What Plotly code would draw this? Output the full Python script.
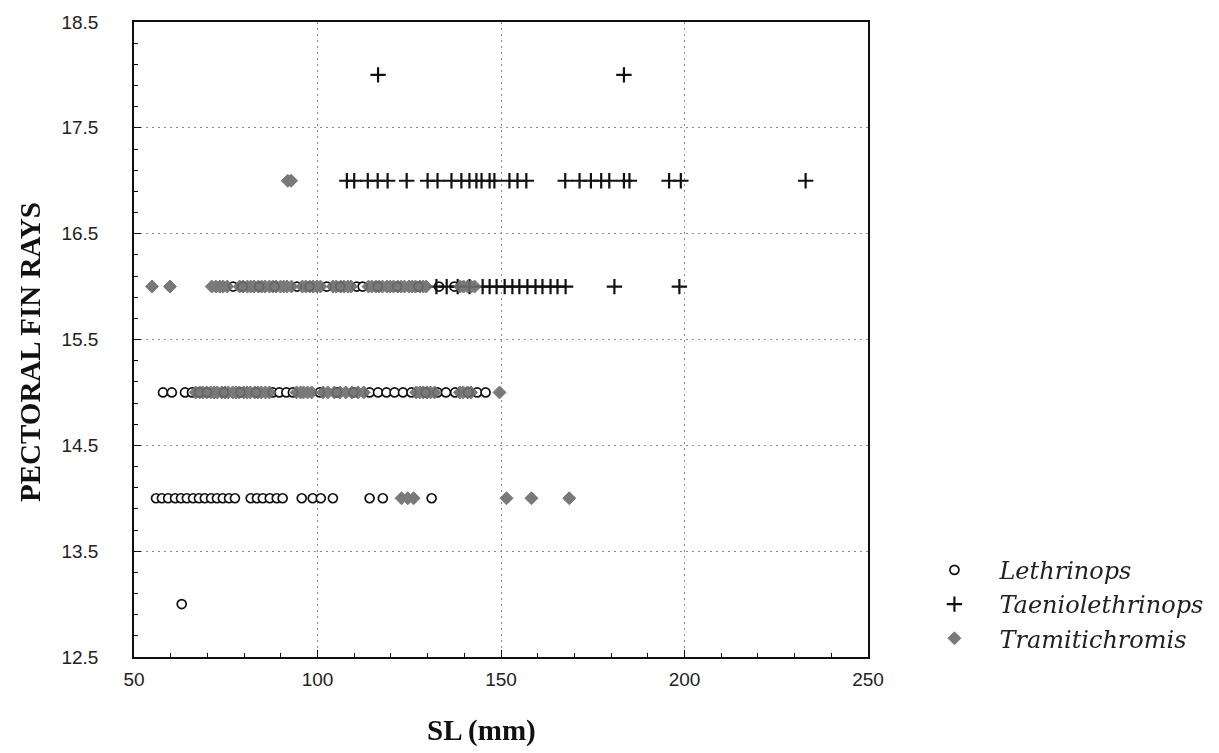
import plotly.graph_objects as go

# Standard length (mm) of each specimen, grouped by pectoral fin-ray count
leth_13 = [63.0]
leth_14 = [56.0, 57.6, 59.3, 61.2, 62.8, 64.4, 66.1, 67.7, 69.3, 71.0, 72.6, 74.2,
           75.9, 77.5, 81.8, 83.5, 85.1, 87.0, 88.9, 90.5, 95.7, 98.7, 100.9,
           104.2, 114.2, 117.8, 131.1]
leth_15 = [57.9, 60.3, 63.9, 65.8, 67.8, 69.9, 74.5, 79.0, 83.2, 87.8, 89.6, 91.5,
           93.3, 100.6, 105.3, 109.8, 114.2, 116.5, 118.8, 121.0, 123.3, 125.6,
           129.4, 132.7, 135.0, 137.5, 141.0, 143.5, 145.8]
leth_16 = [77.0, 79.6, 84.1, 88.3, 94.4, 97.8, 102.5, 106.2, 110.7, 112.3,
           116.4, 121.7, 127.5, 133.1, 137.3]

taen_16 = [132.4, 135.2, 138.2, 141.4, 145.0, 146.9, 148.8, 151.0, 153.1, 155.0,
           157.2, 159.4, 161.3, 163.5, 165.4, 167.6, 180.9, 198.6]
taen_17 = [108.0, 110.0, 113.7, 116.4, 119.1, 124.3, 130.0, 132.7, 136.5, 139.2,
           141.4, 143.3, 144.7, 146.9, 148.2, 152.3, 154.5, 156.9, 167.5, 171.4,
           174.5, 177.3, 179.5, 183.5, 185.0, 195.8, 199.0, 233.0]
taen_18 = [116.5, 183.5]

tram_14 = [122.9, 124.6, 126.2, 151.5, 158.3, 168.6]
tram_15 = [66.8, 67.9, 68.7, 69.8, 70.9, 71.8, 72.7, 73.9, 74.8, 75.7, 76.9, 77.8,
           78.7, 79.9, 80.8, 81.7, 82.9, 83.8, 84.7, 85.8, 86.9, 94.3, 95.4, 96.2,
           97.3, 98.4, 101.5, 102.8, 104.6, 106.1, 107.7, 109.4, 111.0, 112.6,
           126.9, 127.9, 128.8, 129.9, 130.8, 131.9, 138.8, 139.7, 140.9, 141.8,
           149.6]
tram_16 = [54.9, 59.8, 71.2, 72.3, 73.4, 74.3, 75.4, 78.8, 79.7, 80.9, 81.8, 82.7,
           83.9, 84.8, 85.7, 86.9, 87.8, 88.7, 89.9, 90.8, 91.7, 92.9, 95.9, 96.8,
           97.9, 98.8, 99.9, 100.8, 104.2, 105.1, 106.3, 107.2, 108.3, 109.1,
           113.9, 114.8, 115.9, 116.8, 117.7, 118.9, 119.8, 120.7, 121.9, 122.8,
           123.7, 124.9, 125.8, 126.7, 127.9, 128.8, 129.6, 138.9, 139.8, 140.9,
           141.9, 142.8]
tram_17 = [91.9, 92.8]

SERIES = ["Lethrinops", "Taeniolethrinops", "Tramitichromis"]
TICKS_X = [50, 100, 150, 200, 250]
TICKS_Y = [12.5, 13.5, 14.5, 15.5, 16.5, 17.5, 18.5]


def stack(groups):
    xs, ys = [], []
    for count, values in groups:
        xs += values
        ys += [count] * len(values)
    return xs, ys


lx, ly = stack([(13, leth_13), (14, leth_14), (15, leth_15), (16, leth_16)])
tx, ty = stack([(16, taen_16), (17, taen_17), (18, taen_18)])
gx, gy = stack([(14, tram_14), (15, tram_15), (16, tram_16), (17, tram_17)])

fig = go.Figure()
fig.add_trace(go.Scatter(
    x=lx, y=ly, mode="markers", name=SERIES[0],
    marker=dict(symbol="circle", size=9, color="white",
                line=dict(color="#111", width=1.7)),
))
fig.add_trace(go.Scatter(
    x=tx, y=ty, mode="markers", name=SERIES[1],
    marker=dict(symbol="cross-thin", size=11, color="#111",
                line=dict(color="#111", width=2.2)),
))
fig.add_trace(go.Scatter(
    x=gx, y=gy, mode="markers", name=SERIES[2],
    marker=dict(symbol="diamond", size=10, color="#6e6e6e",
                line=dict(color="#6e6e6e", width=1)),
    opacity=0.92,
))

axis_common = dict(
    showline=True, linecolor="#111", linewidth=1.5, mirror=True,
    ticks="inside", ticklen=7, tickcolor="#111", tickwidth=1,
    showgrid=True, gridcolor="#8c8c8c", griddash="2px,4px", gridwidth=1.2,
    zeroline=False,
    tickfont=dict(family="Liberation Sans, Arial, sans-serif", size=19, color="#222"),
)

fig.update_xaxes(
    range=[50, 250], tickvals=TICKS_X, ticktext=[str(v) for v in TICKS_X],
    minor=dict(ticks="inside", ticklen=4, tickcolor="#111", dtick=10, tick0=50),
    ticklabelstandoff=4,
    **axis_common,
)
fig.update_yaxes(
    range=[12.5, 18.5], tickvals=TICKS_Y, ticktext=[f"{v:.1f}" for v in TICKS_Y],
    minor=dict(ticks="inside", ticklen=4, tickcolor="#111", dtick=0.2, tick0=12.5),
    ticklabelstandoff=30,
    **axis_common,
)

title_font = dict(family="Liberation Serif, Times New Roman, serif", size=29, color="#111")
fig.update_layout(
    width=1219, height=753,
    margin=dict(l=134, r=350, t=22, b=96),
    paper_bgcolor="white", plot_bgcolor="white",
    showlegend=True,
    legend=dict(
        x=1.055, y=0.172, xanchor="left", yanchor="top",
        itemwidth=80,
        font=dict(family="DejaVu Serif, serif", size=24, color="#222", style="italic"),
        bgcolor="rgba(0,0,0,0)",
    ),
    annotations=[
        dict(text="<b>SL (mm)</b>", xref="paper", yref="paper", x=0.474, y=-0.115,
             xanchor="center", yanchor="middle", showarrow=False, font=title_font),
        dict(text="<b>PECTORAL FIN RAYS</b>", xref="paper", yref="paper", x=-0.142,
             y=0.48, xanchor="center", yanchor="middle", showarrow=False,
             textangle=-90, font=title_font),
    ],
)

fig.write_html("out.html")
